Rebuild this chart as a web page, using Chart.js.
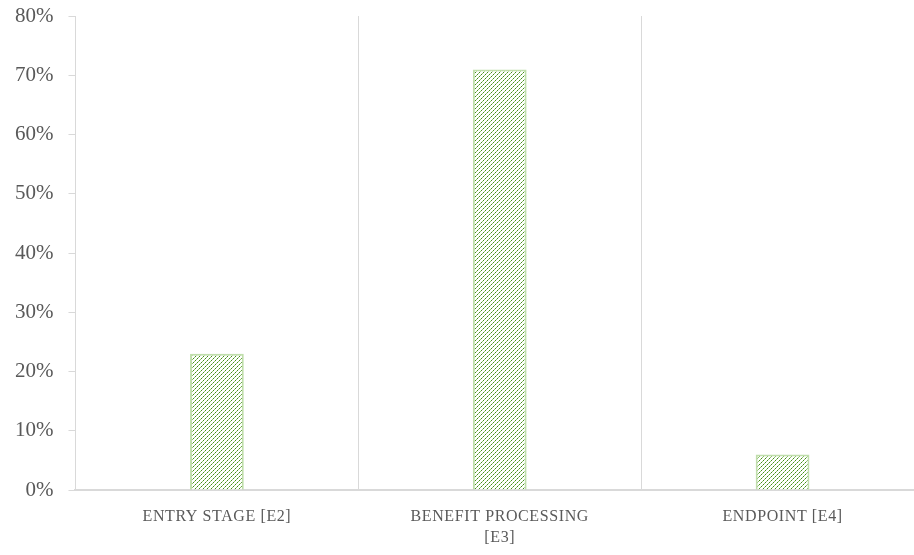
<!DOCTYPE html>
<html>
<head>
<meta charset="utf-8">
<script src="https://cdn.jsdelivr.net/npm/chart.js@4/dist/chart.umd.min.js"></script>
<style>
  html, body { margin: 0; padding: 0; background: #fff; overflow: hidden; }
  #wrap { width: 924px; height: 555px; }
</style>
</head>
<body>
<div id="wrap"><canvas id="stageChart" width="924" height="555"></canvas></div>
<script>
// ── Data ──────────────────────────────────────────────────────
const categories = [
    'ENTRY STAGE [E2]',
    ['BENEFIT PROCESSING', '[E3]'],
    'ENDPOINT [E4]'
];
const shares = [0.23, 0.71, 0.06];          // fraction of cases
const yTicks = [0, 0.1, 0.2, 0.3, 0.4, 0.5, 0.6, 0.7, 0.8];

const GRID  = '#d9d9d9';
const TEXT  = '#595959';
const SERIF = '"Liberation Serif", "Times New Roman", serif';

// ── Hatch pattern: dashed "/" diagonals in green ──────────────
function _hatch() {
    const c = document.createElement('canvas');
    c.width = 4; c.height = 4;
    const g = c.getContext('2d');
    g.fillStyle = '#ffffff';
    g.fillRect(0, 0, 4, 4);
    g.fillStyle = '#8fc46a';
    g.fillRect(2, 1, 1, 1);
    g.fillRect(0, 3, 1, 1);
    g.fillStyle = '#448c1c';
    g.fillRect(3, 0, 1, 1);
    g.fillRect(1, 2, 1, 1);
    return g.createPattern(c, 'repeat');
}

// ── Letter spacing on the category labels only ──────────────
const _origDrawLabels = Chart.CategoryScale.prototype.drawLabels;
Chart.CategoryScale.prototype.drawLabels = function (area) {
    this.ctx.save();
    this.ctx.letterSpacing = '0.6px';
    _origDrawLabels.call(this, area);
    this.ctx.restore();
};

new Chart(document.getElementById('stageChart').getContext('2d'), {
    type: 'bar',
    data: {
        labels: categories,
        datasets: [{
            data: shares,
            backgroundColor: _hatch(),
            borderColor: 'rgba(150,200,115,0.6)',
            borderWidth: 2,
            barPercentage: 0.19,
            categoryPercentage: 1
        }]
    },
    options: {
        responsive: false,
        animation: false,
        layout: { padding: { left: 0, top: 0, right: 0, bottom: -9 } },
        plugins: { legend: { display: false }, tooltip: { enabled: false } },
        scales: {
            x: {
                offset: true,
                grid: { color: GRID, lineWidth: 1, drawTicks: false },
                border: { color: GRID, width: 2 },
                ticks: {
                    color: TEXT,
                    padding: 16,
                    maxRotation: 0,
                    autoSkip: false,
                    font: { family: SERIF, size: 16, lineHeight: 1.31 }
                }
            },
            y: {
                min: 0,
                max: 0.8,
                afterBuildTicks: axis => { axis.ticks = yTicks.map(v => ({ value: v })); },
                grid: { drawOnChartArea: false, drawTicks: true, tickLength: 7, tickColor: GRID },
                border: { color: GRID, width: 1 },
                ticks: {
                    color: TEXT,
                    padding: 15,
                    font: { family: SERIF, size: 21, lineHeight: 0.1 },
                    callback: v => Math.round(v * 100) + '%'
                }
            }
        }
    }
});
</script>
</body>
</html>
